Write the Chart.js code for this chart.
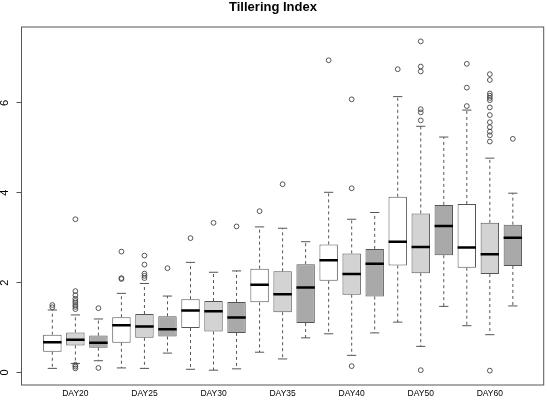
<!DOCTYPE html>
<html>
<head>
<meta charset="utf-8">
<title>Tillering Index</title>
<script src="https://cdn.jsdelivr.net/npm/chart.js@4.4.1/dist/chart.umd.min.js"></script>
<style>
  html, body { margin: 0; padding: 0; background: #fff; }
  canvas { display: block; }
</style>
</head>
<body>
<canvas id="chartTiller" width="547" height="400"></canvas>
<script>
// === Datos: 7 fechas, 3 cajas por fecha (en el orden del grafico) ===
const days = ["DAY20", "DAY25", "DAY30", "DAY35", "DAY40", "DAY50", "DAY60"];

const whiskerLow = [
  0.09, 0.20, 0.26,  0.10, 0.09, 0.43,  0.07, 0.05, 0.08,
  0.45, 0.30, 0.77,  0.86, 0.38, 0.88,  1.12, 0.58, 1.47,
  1.04, 0.84, 1.48,
];
const q1 = [
  0.46, 0.60, 0.55,  0.66, 0.77, 0.80,  0.99, 0.91, 0.88,
  1.56, 1.34, 1.10,  2.04, 1.73, 1.69,  2.38, 2.21, 2.61,
  2.33, 2.19, 2.37,
];
const median = [
  0.67, 0.73, 0.66,  1.05, 1.02, 0.96,  1.38, 1.36, 1.22,
  1.95, 1.74, 1.89,  2.50, 2.19, 2.42,  2.91, 2.79, 3.26,
  2.78, 2.63, 3.00,
];
const q3 = [
  0.84, 0.89, 0.82,  1.23, 1.30, 1.25,  1.63, 1.59, 1.57,
  2.31, 2.25, 2.41,  2.85, 2.65, 2.75,  3.91, 3.54, 3.73,
  3.75, 3.33, 3.29,
];
const whiskerHigh = [
  1.39, 1.28, 1.19,  1.76, 1.98, 1.70,  2.45, 2.23, 2.26,
  3.24, 3.21, 2.91,  4.01, 3.41, 3.56,  6.14, 5.48, 5.24,
  5.84, 4.77, 3.99,
];
const outliers = [
  [1.50, 1.45],
  [3.41, 1.81, 1.72, 1.64, 1.59, 1.55, 1.50, 1.46, 1.41, 0.17, 0.13, 0.09],
  [1.43, 0.10],
  [2.69, 2.10, 2.08],
  [2.60, 2.40, 2.20, 2.15, 2.10],
  [2.32],
  [2.99],
  [3.33],
  [3.25],
  [3.59],
  [4.19],
  [],
  [6.95],
  [6.08, 4.10, 0.14],
  [],
  [6.75],
  [7.37, 6.81, 6.70, 5.86, 5.79, 5.61, 0.05],
  [],
  [6.87, 6.34, 5.93],
  [6.64, 6.51, 6.21, 6.16, 6.11, 6.06, 5.90, 5.73, 5.57, 5.46, 5.36, 5.28, 5.14, 0.04],
  [5.20],
];
const yTicks = [0, 2, 4, 6];

// === Estilos ===
const boxColors = ["#ffffff", "#d3d3d3", "#a9a9a9"];
const edge = "#555555";
const boxHalf = 0.4;   // media caja (unidades x)
const capHalf = 0.2;   // medio remate del bigote

Chart.defaults.font.family = "'Liberation Sans', Arial, sans-serif";

// posicion de cada caja: 1..21
const xPos = q1.map((_, i) => i + 1);

const boxData = xPos.map((x, i) => ({ x, y: [q1[i], q3[i]] }));
const whiskerData = xPos.flatMap((x, i) => [
  { x, y: q3[i] }, { x, y: whiskerHigh[i] }, { x, y: null },
  { x, y: q1[i] }, { x, y: whiskerLow[i] }, { x, y: null },
]);
const capData = xPos.flatMap((x, i) => [
  { x: x - capHalf, y: whiskerHigh[i] }, { x: x + capHalf, y: whiskerHigh[i] }, { x, y: null },
  { x: x - capHalf, y: whiskerLow[i] }, { x: x + capHalf, y: whiskerLow[i] }, { x, y: null },
]);
const medianData = xPos.flatMap((x, i) => [
  { x: x - boxHalf, y: median[i] }, { x: x + boxHalf, y: median[i] }, { x, y: null },
]);
const outlierData = outliers.flatMap((vals, i) => vals.map((y) => ({ x: xPos[i], y })));

// marco alrededor del area de trazado (como box() en R)
const framePlugin = {
  id: "frame",
  afterDatasetsDraw(chart) {
    const { ctx, chartArea: a } = chart;
    ctx.save();
    ctx.strokeStyle = edge;
    ctx.lineWidth = 1;
    ctx.strokeRect(a.left, a.top, a.right - a.left, a.bottom - a.top);
    ctx.restore();
  },
};

const lineBase = {
  type: "line",
  pointRadius: 0,
  pointHoverRadius: 0,
  spanGaps: false,
  tension: 0,
  fill: false,
};

new Chart(document.getElementById("chartTiller"), {
  type: "bar",
  data: {
    datasets: [
      {
        ...lineBase,
        label: "whiskers",
        data: whiskerData,
        borderColor: edge,
        borderWidth: 1,
        borderDash: [3, 3],
        order: 4,
      },
      {
        ...lineBase,
        label: "caps",
        data: capData,
        borderColor: edge,
        borderWidth: 1,
        order: 3,
      },
      {
        type: "bar",
        label: "boxes",
        data: boxData,
        backgroundColor: xPos.map((_, i) => boxColors[i % 3]),
        borderColor: edge,
        borderWidth: 1,
        borderSkipped: false,
        barPercentage: 0.8,
        categoryPercentage: 1,
        order: 2,
      },
      {
        ...lineBase,
        label: "median",
        data: medianData,
        borderColor: "#000000",
        borderWidth: 2.5,
        borderCapStyle: "butt",
        order: 1,
      },
      {
        type: "scatter",
        label: "outliers",
        data: outlierData,
        pointStyle: "circle",
        pointRadius: 2.4,
        pointHoverRadius: 2.4,
        borderWidth: 0.9,
        borderColor: "#444444",
        backgroundColor: "rgba(0,0,0,0)",
        order: 0,
      },
    ],
  },
  options: {
    responsive: false,
    animation: false,
    layout: { padding: { left: 0, right: 1, top: 0, bottom: 0 } },
    plugins: {
      legend: { display: false },
      tooltip: { enabled: false },
      title: {
        display: true,
        text: "Tillering Index",
        color: "#000",
        font: { size: 13, weight: "bold" },
        padding: { top: 0, bottom: 11.4 },
      },
    },
    scales: {
      x: {
        type: "linear",
        min: -0.34,
        max: 22.34,
        offset: false,
        grid: { display: false, drawTicks: false },
        border: { display: false },
        afterBuildTicks: (s) => { s.ticks = days.map((_, g) => ({ value: g * 3 + 2 })); },
        afterFit: (s) => { s.height = 13; },
        ticks: {
          autoSkip: false,
          maxRotation: 0,
          padding: 3.5,
          color: "#000",
          font: { size: 8.5 },
          callback: (v) => days[Math.round((v - 2) / 3)],
        },
      },
      y: {
        type: "linear",
        min: -0.28,
        max: 7.69,
        afterBuildTicks: (s) => { s.ticks = yTicks.map((v) => ({ value: v })); },
        afterFit: (s) => { s.width = 21.5; },
        grid: { drawOnChartArea: false, drawTicks: true, tickLength: 5, color: edge },
        border: { display: false },
        ticks: {
          minRotation: 90,
          maxRotation: 90,
          crossAlign: "center",
          padding: 8.4,
          color: "#000",
          font: { size: 11 },
        },
      },
    },
  },
  plugins: [framePlugin],
});
</script>
</body>
</html>
